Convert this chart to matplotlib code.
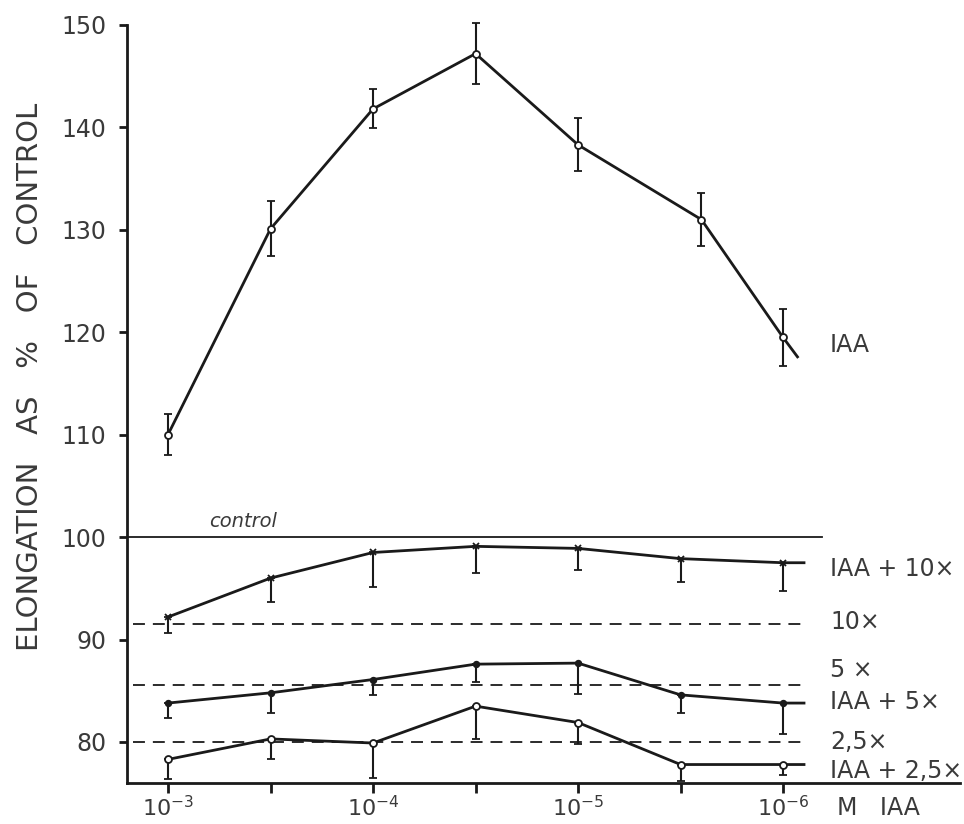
import matplotlib
matplotlib.use('Agg')
import matplotlib.pyplot as plt

# IAA concentration (M); the plotted axis runs from high to low
CONC = [1e-3, 3.16e-4, 1e-4, 3.16e-5, 1e-5, 3.16e-6, 1e-6]
CONC_IAA = [1e-3, 3.16e-4, 1e-4, 3.16e-5, 1e-5, 2.5e-6, 1e-6]
DECADES = [1e-3, 1e-4, 1e-5, 1e-6]
DECADE_LABELS = ['$10^{-3}$', '$10^{-4}$', '$10^{-5}$', '$10^{-6}$']

# elongation as % of control
IAA = [110.0, 130.1, 141.8, 147.2, 138.3, 131.0, 119.5]
IAA_ERR = [2.0, 2.7, 1.9, 3.0, 2.6, 2.6, 2.8]
IAA_10X = [92.2, 96.0, 98.5, 99.1, 98.9, 97.9, 97.5]
IAA_10X_ERR = [1.6, 2.3, 3.4, 2.6, 2.1, 2.3, 2.8]
IAA_5X = [83.8, 84.8, 86.1, 87.6, 87.7, 84.6, 83.8]
IAA_5X_ERR = [1.5, 2.0, 1.5, 1.7, 3.0, 1.8, 3.0]
IAA_25X = [78.3, 80.3, 79.9, 83.5, 81.9, 77.8, 77.8]
IAA_25X_ERR = [1.9, 2.0, 3.4, 3.2, 2.1, 1.6, 1.0]

# line ends drawn a little past the last point
TAIL_IAA = (8.5e-7, 117.6)
TAIL_10X = (7.9e-7, 97.5)
TAIL_5X = (7.9e-7, 83.8)
TAIL_25X = (7.9e-7, 77.8)

# reference levels: control and antiauxin alone
CONTROL = 100.0
ANTI_10X = 91.5
ANTI_5X = 85.6
ANTI_25X = 80.0

INK = '#1a1a1a'
TXT = '#3a3a3a'
plt.rcParams.update({'font.family': 'DejaVu Sans', 'text.color': TXT,
                     'axes.edgecolor': INK, 'xtick.color': INK, 'ytick.color': INK,
                     'xtick.labelcolor': TXT, 'ytick.labelcolor': TXT})

fig = plt.figure(figsize=(9.64, 8.24), dpi=100)
ax = fig.add_axes([0.1317, 0.0498, 0.8641, 0.9199])
ax.set_xscale('log')
ax.set_xlim(10 ** -2.8, 10 ** -6.863)
ax.set_ylim(76, 150)

for s in ('top', 'right'):
    ax.spines[s].set_visible(False)
for s in ('left', 'bottom'):
    ax.spines[s].set_linewidth(2.0)

ax.axhline(CONTROL, xmin=0, xmax=0.834, color=INK, lw=1.3)
for lvl in (ANTI_10X, ANTI_5X, ANTI_25X):
    ax.axhline(lvl, xmin=0.007, xmax=0.814, color=INK, lw=1.3,
               ls=(0, (6.6, 4.4)))


def series(conc, vals, err, tail, marker, ms, mfc, lower_only):
    ax.plot(conc + [tail[0]], vals + [tail[1]], color=INK, lw=2.0, zorder=3)
    yerr = [err, [0] * len(err)] if lower_only else err
    eb = ax.errorbar(conc, vals, yerr=yerr, fmt=marker, ms=ms, mfc=mfc,
                     mec=INK, mew=1.3, color=INK, ecolor=INK, elinewidth=1.5,
                     capsize=2.6, capthick=1.5, zorder=4)
    for art in eb.get_children():
        art.set_clip_on(False)


series(CONC_IAA, IAA, IAA_ERR, TAIL_IAA, 'o', 5, 'white', False)
series(CONC, IAA_10X, IAA_10X_ERR, TAIL_10X, 'x', 5, INK, True)
series(CONC, IAA_5X, IAA_5X_ERR, TAIL_5X, 'o', 4, INK, True)
series(CONC, IAA_25X, IAA_25X_ERR, TAIL_25X, 'o', 5, 'white', True)

ax.set_yticks([80, 90, 100, 110, 120, 130, 140, 150])
ax.set_xticks(CONC)
ax.set_xticklabels(['' if c not in DECADES else DECADE_LABELS[DECADES.index(c)]
                    for c in CONC])
ax.minorticks_off()
ax.tick_params(axis='y', length=6, width=2.0, pad=9, labelsize=17)
ax.tick_params(axis='x', length=7, width=2.0, pad=2, labelsize=16)

lab_x = 5.9e-7
for txt, y in [('IAA', 118.8), ('IAA + 10×', 96.9), ('10×', 91.7),
               ('5 ×', 87.0), ('IAA + 5×', 83.9), ('2,5×', 80.0),
               ('IAA + 2,5×', 77.2)]:
    ax.text(lab_x, y, txt, fontsize=17, va='center', ha='left', clip_on=False)

ax.text(10 ** -3.2, 100.6, 'control', fontsize=14, style='italic',
        ha='left', va='bottom')
fig.text(837 / 964, 1 - 808 / 824, 'M   IAA', fontsize=17, va='center')
fig.text(30 / 964, 1 - 377 / 824, 'ELONGATION   AS   %   OF   CONTROL',
         rotation=90, fontsize=21, ha='center', va='center')

fig.savefig('out.png', dpi=100)
